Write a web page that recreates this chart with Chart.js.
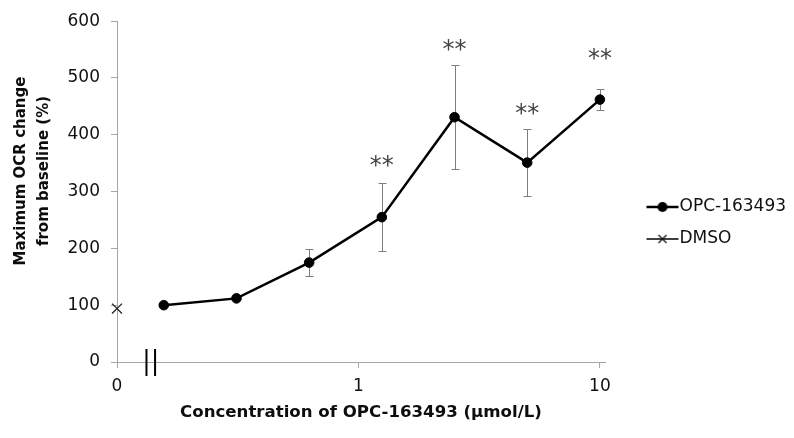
<!DOCTYPE html>
<html>
<head>
<meta charset="utf-8">
<script src="https://cdn.jsdelivr.net/npm/chart.js@4/dist/chart.umd.min.js"></script>
<style>
  html, body { margin: 0; padding: 0; background: #fff; }
  #wrap { width: 794px; height: 438px; }
</style>
</head>
<body>
<div id="wrap"><canvas id="c" width="794" height="438"></canvas></div>
<script>
// Concentrations (µmol/L) and maximum OCR change from baseline (%)
const concentrations = [0.15625, 0.3125, 0.625, 1.25, 2.5, 5, 10];
const ocrChange = [100, 112, 175, 255, 431, 351, 462];
const ocrError = [0, 0, 24, 60, 92, 59, 18];
const significance = ['', '', '', '**', '**', '**', '**'];
const significanceLevel = [null, null, null, 356, 560, 448, 544];

// Vehicle control, plotted at the "0" position of the broken axis
const dmsoConcentration = [0.1];
const dmsoChange = [94];

const xTickValues = [0.1, 1, 10];
const xTickLabels = ['0', '1', '10'];
const yTicks = [0, 100, 200, 300, 400, 500, 600];

const seriesNames = ['OPC-163493', 'DMSO'];
const xTitle = 'Concentration of OPC-163493 (\u03BCmol/L)';
const yTitle = ['Maximum OCR change', 'from baseline (%)'];
const axisBreakAt = 0.138;

const FONT = 'DejaVu Sans';
const AXIS_GRAY = '#a6a6a6';
const TEXT = '#111';

// legend icons: a short line segment with the series marker on it
function legendIcon(lineWidth, marker) {
  const c = document.createElement('canvas');
  c.width = 68; c.height = 14;
  const g = c.getContext('2d');
  g.strokeStyle = '#000';
  g.lineWidth = lineWidth;
  g.beginPath(); g.moveTo(35, 7); g.lineTo(67, 7); g.stroke();
  marker(g, 51, 7);
  return c;
}
const legendIcons = [
  legendIcon(2.5, (g, x, y) => { g.fillStyle = '#000'; g.beginPath(); g.arc(x, y, 5, 0, Math.PI * 2); g.fill(); }),
  legendIcon(1.5, (g, x, y) => {
    g.strokeStyle = '#111'; g.lineWidth = 1.2; g.beginPath();
    g.moveTo(x - 4, y - 4); g.lineTo(x + 4, y + 4);
    g.moveTo(x + 4, y - 4); g.lineTo(x - 4, y + 4); g.stroke();
  })
];

// vertical error bars with caps, drawn beneath the markers
const errorBarPlugin = {
  id: 'errorBars',
  beforeDatasetsDraw(chart) {
    const { ctx, scales: { x, y } } = chart;
    ctx.save();
    ctx.strokeStyle = '#7f7f7f';
    ctx.lineWidth = 1;
    concentrations.forEach((c, i) => {
      const e = ocrError[i];
      if (!e) return;
      const px = Math.round(x.getPixelForValue(c)) + 0.5;
      const top = Math.round(y.getPixelForValue(ocrChange[i] + e)) + 0.5;
      const bot = Math.round(y.getPixelForValue(ocrChange[i] - e)) + 0.5;
      ctx.beginPath();
      ctx.moveTo(px, top); ctx.lineTo(px, bot);
      ctx.moveTo(px - 4, top); ctx.lineTo(px + 4, top);
      ctx.moveTo(px - 4, bot); ctx.lineTo(px + 4, bot);
      ctx.stroke();
    });
    ctx.restore();
  }
};

// significance marks, axis break and the y-axis title
const decorPlugin = {
  id: 'decor',
  afterDatasetsDraw(chart) {
    const { ctx, scales: { x, y } } = chart;
    ctx.save();
    ctx.fillStyle = '#444';
    ctx.font = '24px "' + FONT + '"';
    ctx.textAlign = 'center';
    ctx.textBaseline = 'alphabetic';
    significance.forEach((s, i) => {
      if (!s) return;
      const px = x.getPixelForValue(concentrations[i]);
      const py = y.getPixelForValue(significanceLevel[i]);
      ctx.fillText(s, px, py + 13);
    });

    // axis break "||"
    const bx = x.getPixelForValue(axisBreakAt);
    const by = y.getPixelForValue(0);
    ctx.strokeStyle = '#000';
    ctx.lineWidth = 2;
    ctx.beginPath();
    ctx.moveTo(bx - 4.3, by - 13); ctx.lineTo(bx - 4.3, by + 14);
    ctx.moveTo(bx + 4.3, by - 13); ctx.lineTo(bx + 4.3, by + 14);
    ctx.stroke();

    // y-axis title, two lines
    ctx.translate(0, 171);
    ctx.rotate(-Math.PI / 2);
    ctx.fillStyle = '#0d0d0d';
    ctx.font = 'bold 15px "' + FONT + '"';
    ctx.textAlign = 'center';
    ctx.fillText(yTitle[0], 0, 25);
    ctx.fillText(yTitle[1], 0, 48);
    ctx.restore();
  }
};

new Chart(document.getElementById('c'), {
  type: 'line',
  data: {
    datasets: [
      {
        label: seriesNames[0],
        data: concentrations.map((c, i) => ({ x: c, y: ocrChange[i] })),
        borderColor: '#000',
        borderWidth: 2.5,
        backgroundColor: '#000',
        pointRadius: 4.8,
        pointBorderWidth: 1,
        pointBackgroundColor: '#000',
        pointBorderColor: '#000',
        tension: 0,
        clip: false
      },
      {
        label: seriesNames[1],
        data: dmsoConcentration.map((c, i) => ({ x: c, y: dmsoChange[i] })),
        showLine: false,
        pointStyle: 'crossRot',
        pointRadius: 7,
        pointBorderWidth: 1.3,
        borderColor: '#222',
        backgroundColor: '#222',
        clip: false
      }
    ]
  },
  options: {
    responsive: false,
    animation: false,
    devicePixelRatio: 1,
    layout: { padding: { top: 20, bottom: 12, left: 0, right: 0 } },
    plugins: {
      tooltip: { enabled: false },
      legend: {
        position: 'right',
        maxWidth: 189,
        labels: {
          usePointStyle: true,
          pointStyleWidth: 51,
          padding: 15,
          color: TEXT,
          font: { family: FONT, size: 17 },
          generateLabels: (chart) => chart.data.datasets.map((ds, i) => ({
            text: ds.label,
            pointStyle: legendIcons[i],
            fillStyle: '#000',
            strokeStyle: '#000',
            lineWidth: 0,
            hidden: false,
            datasetIndex: i,
            fontColor: TEXT
          }))
        }
      }
    },
    scales: {
      x: {
        type: 'logarithmic',
        min: 0.1,
        max: 10.5,
        afterBuildTicks: (s) => { s.ticks = xTickValues.map(v => ({ value: v })); },
        afterFit: (s) => { s.height = 64; },
        ticks: {
          autoSkip: false,
          maxRotation: 0,
          padding: 8,
          color: TEXT,
          font: { family: FONT, size: 17 },
          callback: (v, i) => xTickLabels[i]
        },
        grid: { drawOnChartArea: false, tickLength: 6, color: AXIS_GRAY },
        border: { color: AXIS_GRAY, width: 1 },
        title: {
          display: true,
          text: xTitle,
          color: '#0d0d0d',
          font: { family: FONT, size: 16.6, weight: 'bold' },
          padding: { top: 0, bottom: 3 }
        }
      },
      y: {
        type: 'linear',
        min: 0,
        max: 600,
        afterBuildTicks: (s) => { s.ticks = yTicks.map(v => ({ value: v })); },
        afterFit: (s) => { s.width = 117; },
        ticks: {
          padding: 11,
          color: TEXT,
          font: { family: FONT, size: 17 }
        },
        grid: { drawOnChartArea: false, tickLength: 6, color: AXIS_GRAY },
        border: { color: AXIS_GRAY, width: 1 }
      }
    }
  },
  plugins: [errorBarPlugin, decorPlugin]
});
</script>
</body>
</html>
